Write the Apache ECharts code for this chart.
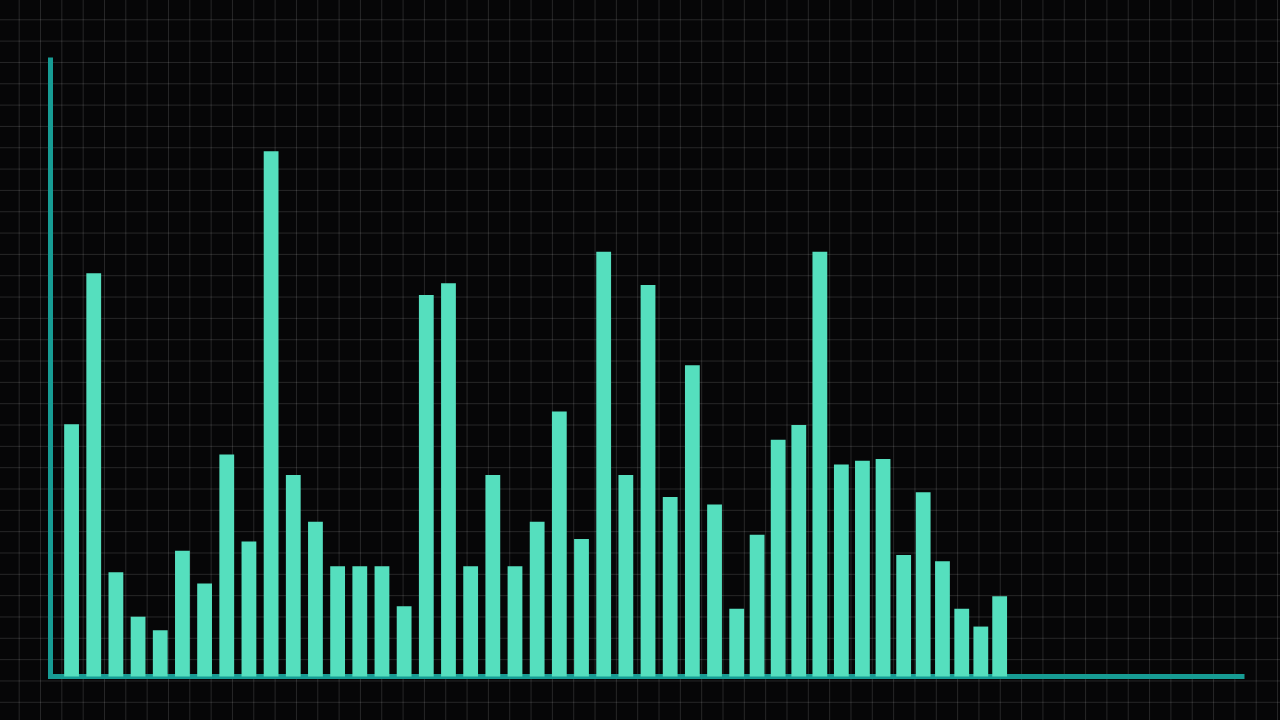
<!DOCTYPE html>
<html>
<head>
<meta charset="utf-8">
<script src="https://cdn.jsdelivr.net/npm/echarts@6/dist/echarts.min.js"></script>
<style>
html,body{margin:0;padding:0;width:1280px;height:720px;overflow:hidden;background:#060607;}
#chart{width:1280px;height:720px;
background-color:#060607;
background-image:
 linear-gradient(to right, rgba(255,255,255,0.13) 1px, transparent 1px),
 linear-gradient(to bottom, rgba(255,255,255,0.13) 1px, transparent 1px);
background-size:21.333px 21.333px;
background-position:18.7px 19.3px;
}
</style>
</head>
<body>
<div id="chart"></div>
<script>
// x positions (axis units) of each bar
var xPositions = [1,2,3,4,5,6,7,8,9,10,11,12,13,14,15,16,17,18,19,20,21,22,23,24,25,26,27,28,29,30,31,
  31.92,32.87,33.80,34.75,35.72,36.67,37.60,38.53,39.41,40.28,41.15,42.01,42.86];
// bar values
var barValues = [40.9,65.4,16.9,9.7,7.5,20.4,15.1,36.0,21.9,85.2,32.7,25.1,17.9,17.9,17.9,11.4,61.9,63.8,17.9,32.7,17.9,25.1,43.0,22.3,68.9,32.7,63.5,29.1,50.5,27.9,11.0,
  23.0,38.4,40.8,68.9,34.4,35.0,35.3,19.7,29.9,18.7,11.0,8.1,13.0];

var data = xPositions.map(function(x,i){return [x, barValues[i]];});

var chart = echarts.init(document.getElementById('chart'), null, {renderer:'canvas'});
chart.setOption({
  backgroundColor:'transparent',
  animation:false,
  grid:{left:50.5, right:38, top:60, bottom:43.5},
  xAxis:{
    type:'value', min:0.05, max:53.79,
    axisLine:{show:true, onZero:false, lineStyle:{color:'#179c94', width:5, cap:'square'}},
    axisTick:{show:false}, axisLabel:{show:false}, splitLine:{show:false}
  },
  yAxis:{
    type:'value', min:0, max:100,
    axisLine:{show:true, lineStyle:{color:'#179c94', width:5, cap:'square'}},
    axisTick:{show:false}, axisLabel:{show:false}, splitLine:{show:false}
  },
  series:[{
    type:'bar',
    data:data,
    barWidth:14.8,
    itemStyle:{color:'#55dfbe'},
    z:1
  }]
});
</script>
</body>
</html>
